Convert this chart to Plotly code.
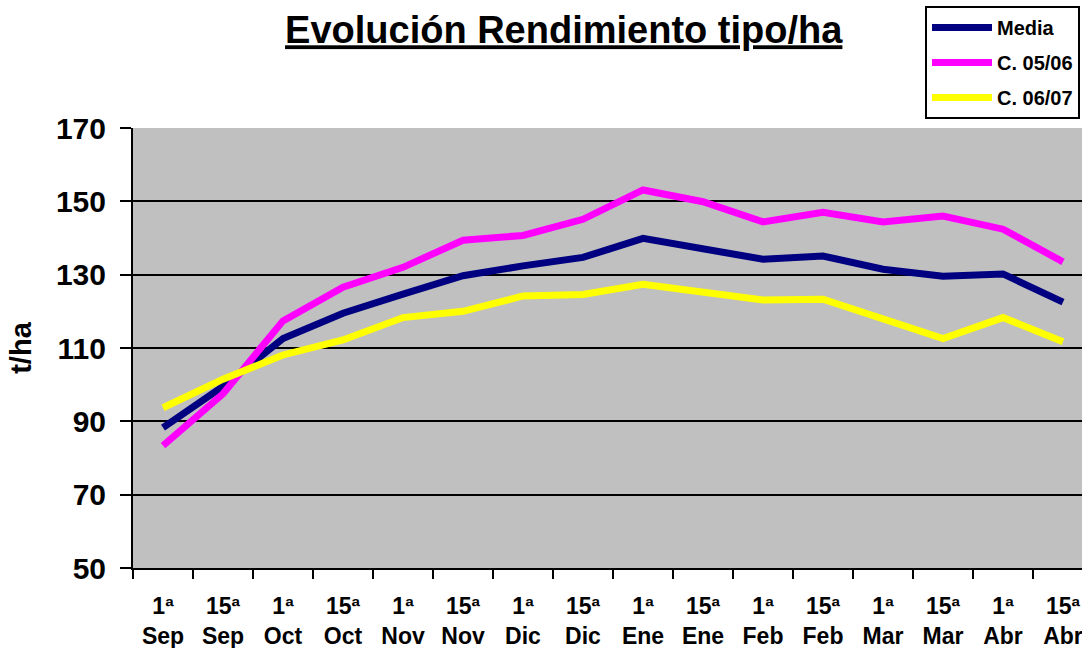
import plotly.graph_objects as go

categories = ["1ª<br>Sep", "15ª<br>Sep", "1ª<br>Oct", "15ª<br>Oct", "1ª<br>Nov", "15ª<br>Nov",
              "1ª<br>Dic", "15ª<br>Dic", "1ª<br>Ene", "15ª<br>Ene", "1ª<br>Feb", "15ª<br>Feb",
              "1ª<br>Mar", "15ª<br>Mar", "1ª<br>Abr", "15ª<br>Abr"]
media = [88.3, 99.5, 112.6, 119.5, 124.7, 129.7, 132.4, 134.7, 139.9, 137.2, 134.2, 135.1, 131.5, 129.6, 130.2, 122.5]
c0506 = [83.4, 97.5, 117.4, 126.6, 132.0, 139.4, 140.7, 145.1, 153.1, 149.9, 144.4, 147.0, 144.4, 146.0, 142.4, 133.5]
c0607 = [93.7, 101.5, 108.1, 112.2, 118.3, 120.0, 124.2, 124.6, 127.4, 125.4, 123.1, 123.3, 117.8, 112.6, 118.3, 111.7]
y_ticks = [50, 70, 90, 110, 130, 150, 170]

FONT = "Liberation Sans, Arial, sans-serif"

fig = go.Figure()
for name, vals, color, grp in [("Media", media, "#000080", "g1"),
                               ("C. 05/06", c0506, "#FF00FF", "g2"),
                               ("C. 06/07", c0607, "#FFFF00", "g3")]:
    fig.add_trace(go.Scatter(x=categories, y=vals, mode="lines", name=f"<b>{name}</b>", legendgroup=grp,
                             line=dict(color=color, width=7)))

fig.update_layout(
    width=1082, height=648,
    margin=dict(l=133, r=0, t=128, b=80, autoexpand=False),
    paper_bgcolor="white", plot_bgcolor="#C0C0C0",
    font=dict(family=FONT, color="black"),
    title=dict(text="<b><u>Evolución Rendimiento tipo/ha</u></b>", x=0.521, xref="container",
               y=1 - 30 / 648, yref="container", xanchor="center", yanchor="middle",
               font=dict(size=38, family=FONT, color="black")),
    showlegend=True,
    legend=dict(x=(925 - 133) / 949, y=(568 - 6) / 440, xanchor="left", yanchor="top",
                bgcolor="white", bordercolor="black", borderwidth=2,
                font=dict(size=20, family=FONT, color="black"),
                itemwidth=60, tracegroupgap=6, traceorder="grouped"),
)
fig.update_xaxes(type="category", range=[-0.5, (1082 - 163) / 60], tickson="boundaries",
                 ticks="outside", ticklen=9, tickwidth=2, tickcolor="black",
                 showline=True, linecolor="black", linewidth=2, showgrid=False,
                 tickvals=categories, ticktext=[f"<b>{c}</b>" for c in categories],
                 tickfont=dict(size=23, family=FONT, color="black"),
                 ticklabelstandoff=16, tickangle=0)
fig.update_yaxes(range=[50, 170], tickvals=y_ticks, ticktext=[f"<b>{v}</b>" for v in y_ticks],
                 ticks="outside", ticklen=11, tickwidth=2, tickcolor="black",
                 showline=True, linecolor="black", linewidth=2,
                 showgrid=True, gridcolor="black", gridwidth=1.5, zeroline=False,
                 tickfont=dict(size=30, family=FONT, color="black"), ticklabelstandoff=8,
                 title=dict(text="<b>t/ha</b>", font=dict(size=29, family=FONT, color="black"), standoff=16))

fig.write_html("out.html", config={"displayModeBar": False},
               post_script="document.body.style.margin='0';")
